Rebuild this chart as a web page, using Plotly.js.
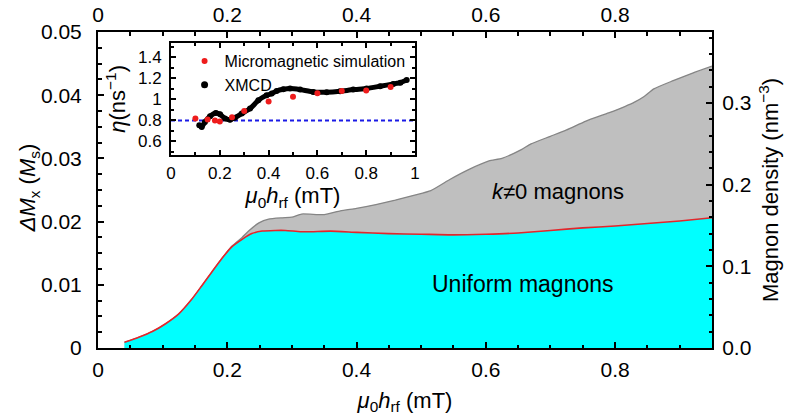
<!DOCTYPE html>
<html>
<head>
<meta charset="utf-8">
<script src="https://cdn.plot.ly/plotly-3.0.1.min.js"></script>
<style>html,body{margin:0;padding:0;background:#fff;}#chart{width:788px;height:420px;}</style>
</head>
<body>
<div id="chart"></div>
<script>
// ---- main panel data ----
const fieldUniform = [0.041, 0.063, 0.084, 0.104, 0.125, 0.145, 0.161, 0.176, 0.192, 0.207, 0.223, 0.238, 0.254, 0.274, 0.29, 0.313, 0.33, 0.36, 0.4, 0.45, 0.5, 0.55, 0.6, 0.65, 0.7, 0.75, 0.8, 0.85, 0.9, 0.95];
const deltaUniform = [0.0009, 0.0017, 0.0026, 0.0038, 0.0054, 0.0077, 0.0099, 0.0120, 0.0142, 0.0160, 0.0172, 0.0181, 0.0185, 0.0186, 0.0186, 0.0184, 0.0184, 0.0185, 0.0183, 0.0181, 0.0180, 0.0179, 0.0180, 0.0182, 0.0186, 0.0190, 0.0193, 0.0197, 0.0201, 0.0206];

const fieldTotal = [0.041, 0.063, 0.084, 0.104, 0.125, 0.145, 0.161, 0.176, 0.192, 0.207, 0.223, 0.233, 0.249, 0.264, 0.285, 0.3, 0.315, 0.35, 0.375, 0.4, 0.43, 0.46, 0.49, 0.515, 0.545, 0.575, 0.605, 0.625, 0.655, 0.67, 0.7, 0.725, 0.755, 0.79, 0.815, 0.83, 0.845, 0.86, 0.89, 0.92, 0.95];
const deltaTotal = [0.0009, 0.0017, 0.0026, 0.0038, 0.0054, 0.0077, 0.0099, 0.0120, 0.0142, 0.0161, 0.0175, 0.0185, 0.0198, 0.0204, 0.0206, 0.0207, 0.0212, 0.0211, 0.0217, 0.0221, 0.0227, 0.0234, 0.0242, 0.0249, 0.0267, 0.0283, 0.0296, 0.0300, 0.0314, 0.0323, 0.0335, 0.0345, 0.0359, 0.0372, 0.0382, 0.0389, 0.0398, 0.0410, 0.0423, 0.0435, 0.0446];

// ---- inset data ----
const simField = [0.1, 0.15, 0.18, 0.2, 0.25, 0.3, 0.4, 0.5, 0.6, 0.7, 0.8, 0.9];
const simEta = [0.82, 0.81, 0.80, 0.79, 0.83, 0.89, 0.98, 1.025, 1.06, 1.08, 1.085, 1.12];

const xmcdField = [0.116, 0.126, 0.139, 0.16, 0.184, 0.201, 0.221, 0.242, 0.262, 0.29, 0.324, 0.358, 0.392, 0.413, 0.433, 0.46, 0.488, 0.529, 0.583, 0.638, 0.693, 0.747, 0.802, 0.857, 0.911, 0.94, 0.966];
const xmcdEta = [0.754, 0.738, 0.786, 0.84, 0.871, 0.859, 0.818, 0.808, 0.827, 0.866, 0.913, 0.992, 1.04, 1.056, 1.081, 1.097, 1.104, 1.094, 1.071, 1.069, 1.078, 1.094, 1.104, 1.126, 1.148, 1.16, 1.185];

const etaReference = 0.8;

const FONT = 'Liberation Sans, Arial, Helvetica, sans-serif';

const traces = [
  { x: fieldTotal, y: deltaTotal, xaxis: 'x', yaxis: 'y', mode: 'lines', fill: 'tozeroy',
    fillcolor: '#bfbfbf', line: { color: '#858585', width: 1.3, shape: 'spline', smoothing: 0.5 },
    showlegend: false, hoverinfo: 'skip' },
  { x: fieldUniform, y: deltaUniform, xaxis: 'x', yaxis: 'y', mode: 'lines', fill: 'tozeroy',
    fillcolor: '#00ffff', line: { color: '#e3262b', width: 1.6, shape: 'spline', smoothing: 0.5 },
    showlegend: false, hoverinfo: 'skip' },
  // helpers so the top and right axes are drawn
  { x: [], y: [], xaxis: 'x2', yaxis: 'y', showlegend: false },
  { x: [], y: [], xaxis: 'x', yaxis: 'y2', showlegend: false },
  // inset
  { x: xmcdField, y: xmcdEta, xaxis: 'x3', yaxis: 'y3', mode: 'lines+markers',
    line: { color: '#000', width: 5, shape: 'spline', smoothing: 0.5 }, marker: { color: '#000', size: 6 },
    showlegend: false },
  { x: simField, y: simEta, xaxis: 'x3', yaxis: 'y3', mode: 'markers', name: 'Micromagnetic simulation',
    marker: { color: '#ee1c1c', size: 6 } },
  { x: [null], y: [null], xaxis: 'x3', yaxis: 'y3', mode: 'markers', name: 'XMCD',
    marker: { color: '#000', size: 7 } }
];

const axisCommon = {
  showline: true, linecolor: '#000', linewidth: 2, ticks: 'inside', tickcolor: '#000',
  tickwidth: 2, ticklen: 6, showgrid: false, zeroline: false,
  tickfont: { family: FONT, size: 21, color: '#000' }
};

const hTitle = '<i>μ</i><sub>0</sub><i>h</i><sub>rf</sub> (mT)';

const layout = {
  width: 788, height: 420, autosize: false,
  margin: { l: 98, r: 76, t: 32, b: 72, pad: 0 },
  paper_bgcolor: '#fff', plot_bgcolor: 'rgba(0,0,0,0)',
  font: { family: FONT, color: '#000' },
  xaxis: Object.assign({}, axisCommon, {
    range: [0, 0.95], dtick: 0.2, tick0: 0, domain: [0, 1], anchor: 'y',
    minor: { dtick: 0.05, ticklen: 3.5, tickwidth: 2, ticks: 'inside', tickcolor: '#000' },
    ticklabelstandoff: 2,
    title: { text: hTitle, font: { family: FONT, size: 22 }, standoff: 12 }
  }),
  xaxis2: Object.assign({}, axisCommon, {
    range: [0, 0.95], dtick: 0.2, tick0: 0, overlaying: 'x', side: 'top', anchor: 'y',
    minor: { dtick: 0.05, ticklen: 3.5, tickwidth: 2, ticks: 'inside', tickcolor: '#000' },
    ticklabelstandoff: 0
  }),
  yaxis: Object.assign({}, axisCommon, {
    range: [0, 0.05], dtick: 0.01, tick0: 0, domain: [0, 1], anchor: 'x',
    minor: { dtick: 0.0025, ticklen: 3.5, tickwidth: 2, ticks: 'inside', tickcolor: '#000' },
    ticklabelstandoff: 10
  }),
  yaxis2: Object.assign({}, axisCommon, {
    range: [0, 0.387], dtick: 0.1, tick0: 0, tickformat: '.1f', overlaying: 'y', side: 'right', anchor: 'x',
    minor: { dtick: 0.02, ticklen: 3.5, tickwidth: 2, ticks: 'inside', tickcolor: '#000' },
    ticklabelstandoff: 4,
    title: { text: 'Magnon density (nm<sup>−3</sup>)', font: { family: FONT, size: 22 }, standoff: 12 }
  }),
  xaxis3: Object.assign({}, axisCommon, {
    domain: [0.1189, 0.5163], anchor: 'y3', range: [0, 1], dtick: 0.2, tick0: 0,
    mirror: 'allticks', ticklen: 5,
    minor: { dtick: 0.1, ticklen: 3, tickwidth: 2, ticks: 'inside', tickcolor: '#000' },
    tickfont: { family: FONT, size: 17, color: '#000' }, ticklabelstandoff: 2,
    title: { text: hTitle, font: { family: FONT, size: 22 }, standoff: 3 }
  }),
  yaxis3: Object.assign({}, axisCommon, {
    domain: [0.6117, 0.9652], anchor: 'x3', range: [0.474, 1.538], dtick: 0.2, tick0: 0,
    mirror: 'allticks', ticklen: 5,
    minor: { dtick: 0.1, ticklen: 3, tickwidth: 2, ticks: 'inside', tickcolor: '#000' },
    tickfont: { family: FONT, size: 17, color: '#000' }, ticklabelstandoff: 4,
    title: { text: '<i>η</i>(ns<sup>−1</sup>)', font: { family: FONT, size: 22 }, standoff: 6 }
  }),
  shapes: [
    { type: 'line', xref: 'x3 domain', x0: 0, x1: 1, yref: 'y3', y0: etaReference, y1: etaReference,
      line: { color: '#1a1ae6', width: 2, dash: '4px,3px' }, layer: 'below' }
  ],
  legend: {
    x: 0.141, y: 0.962, xanchor: 'left', yanchor: 'top', bgcolor: 'rgba(0,0,0,0)',
    font: { family: FONT, size: 16, color: '#000' }, itemwidth: 30, tracegroupgap: 0
  },
  annotations: [
    { xref: 'paper', yref: 'paper', x: -0.112, y: 0.506, textangle: -90, xanchor: 'center', yanchor: 'middle',
      text: '<i>ΔM</i><sub>x</sub> (<i>M</i><sub>s</sub>)', showarrow: false,
      font: { family: FONT, size: 22, color: '#000' } },
    { xref: 'x', yref: 'y', x: 0.711, y: 0.0247, text: '<i>k</i>≠0 magnons', showarrow: false,
      font: { family: FONT, size: 22, color: '#000' } },
    { xref: 'x', yref: 'y', x: 0.658, y: 0.0101, text: 'Uniform magnons', showarrow: false,
      font: { family: FONT, size: 23, color: '#000' } }
  ]
};

Plotly.newPlot('chart', traces, layout, { displayModeBar: false, staticPlot: true });
</script>
</body>
</html>
